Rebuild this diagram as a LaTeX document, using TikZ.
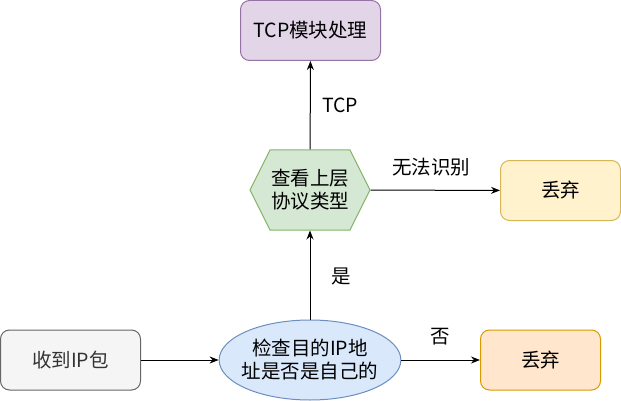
\documentclass[tikz,border=0pt]{standalone}
\usepackage{fontspec}
\setmainfont{Noto Sans CJK SC}
\usepackage{tikz}
\usetikzlibrary{arrows.meta,shapes.geometric,shapes.symbols}
\definecolor{tcpfill}{HTML}{E1D5E7}
\definecolor{tcpline}{HTML}{9673A6}
\definecolor{hexfill}{HTML}{D5E8D4}
\definecolor{hexline}{HTML}{82B366}
\definecolor{yelfill}{HTML}{FFF2CC}
\definecolor{yelline}{HTML}{D6B656}
\definecolor{orgfill}{HTML}{FFE6CC}
\definecolor{orgline}{HTML}{D79B00}
\definecolor{bluefill}{HTML}{DAE8FC}
\definecolor{blueline}{HTML}{6C8EBF}
\definecolor{grayfill}{HTML}{F5F5F5}
\definecolor{grayline}{HTML}{666666}
\definecolor{graytext}{HTML}{333333}
\tikzset{
    every node/.style={font=\fontsize{19.5}{23}\selectfont, align=center,
    	inner sep=0pt, text=black}
}
\tikzset{
    every edge/.append style={line width=1pt, -{Stealth[length=9pt,width=7pt]}}
}
\tikzset{
	box/.style={draw, line width=1pt, rounded corners=9pt, minimum width=120pt,
		minimum height=60pt}
}

\begin{document}
\begin{tikzpicture}[x=1pt, y=-1pt]
	\useasboundingbox (0,0) rectangle (621,401);
	\node (1) [box, fill=grayfill, draw=grayline, text=graytext, minimum width=140pt] at (70.5,360) {收到IP包};
	\node (2) [ellipse, draw=blueline, fill=bluefill, line width=1pt, inner xsep=-4pt, minimum width=180pt, minimum height=80pt] at (310,360) {检查目的IP地\\址是否是自己的};
	\node (3) [box, fill=orgfill, draw=orgline] at (540.5,360) {丢弃};
	\node (4) [signal, signal to=west and east, signal pointer angle=126.87, draw=hexline, fill=hexfill, line width=1pt, minimum width=120pt, minimum height=80pt] at (310,190) {查看上层\\协议类型};
	\node (5) [box, fill=yelfill, draw=yelline] at (560.5,190.5) {丢弃};
	\node (6) [box, fill=tcpfill, draw=tcpline, minimum width=140pt] at (310.5,30.5) {TCP模块处理};

	\node (l1) at (340,105) {TCP};
	\node (l2) at (431,167) {无法识别};
	\node (l3) at (341,276) {是};
	\node (l4) at (440,337) {否};

	\draw (1) edge (2); \draw (2) edge (3);
	\draw (2) edge (4); \draw (4) edge (5);
	\draw (4) edge (6);
\end{tikzpicture}
\end{document}
